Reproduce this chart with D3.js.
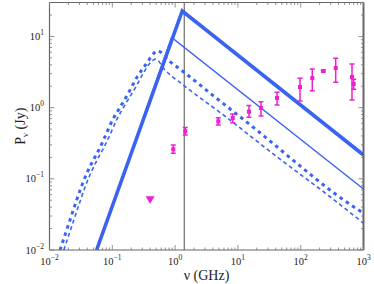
<!DOCTYPE html>
<html><head><meta charset="utf-8">
<script src="https://cdn.jsdelivr.net/npm/d3@7"></script>
<style>body{margin:0;background:#fff}svg{display:block}</style>
</head><body>
<svg id="c" width="374" height="284"></svg>
<script>
// ---- data ----
const xTickExps = [-2, -1, 0, 1, 2, 3];
const yTickExps = [-2, -1, 0, 1];
const xDomain = [0.01, 1000];
const yDomain = [0.01, 30];

// model curves: [frequency GHz, flux Jy]
const thickSolid = [[0.0562, 0.01], [1.30, 22.8], [1000, 0.216]];
const thinSolid = [[0.0562, 0.01], [0.88, 9.7], [1000, 0.072]];
const thickDashed = [[0.0147, 0.0100], [0.0166, 0.0138], [0.0212, 0.0264], [0.0271, 0.0505],
  [0.0345, 0.0912], [0.047, 0.166], [0.0637, 0.275], [0.0766, 0.391], [0.101, 0.671],
  [0.133, 1.01], [0.185, 1.67], [0.25, 2.72], [0.353, 4.2], [0.45, 5.7], [0.52, 6.3],
  [0.83, 4.43], [1.35, 3.2], [4.59, 1.35], [19.9, 0.485], [86.3, 0.166], [374, 0.0593], [1000, 0.0328]];
const thinDashed = [[0.0169, 0.0100], [0.0191, 0.0138], [0.0244, 0.0264], [0.0312, 0.0505],
  [0.0397, 0.0912], [0.054, 0.166], [0.0733, 0.275], [0.09, 0.40], [0.117, 0.671],
  [0.155, 1.05], [0.23, 1.87], [0.312, 3.04], [0.424, 4.5], [0.49, 4.8],
  [0.69, 3.38], [1.35, 2.08], [5.86, 0.79], [41.5, 0.205], [293, 0.056], [1000, 0.0238]];

// observations
const obsNu = [0.935, 1.45, 4.87, 8.26, 15.0, 23.3, 42.0, 97.5, 153, 229, 361, 656, 698];
const obsP  = [0.260, 0.466, 0.643, 0.716, 0.878, 0.989, 1.37, 1.95, 2.61, 3.27, 3.61, 2.70, 2.15];
const obsLo = [0.229, 0.413, 0.571, 0.615, 0.733, 0.763, 1.09, 1.24, 1.73, 3.17, 2.27, 1.28, 1.81];
const obsHi = [0.299, 0.524, 0.723, 0.815, 1.07, 1.21, 1.64, 2.58, 3.49, 3.38, 4.93, 4.10, 2.50];
const limitNu = [0.40];
const limitP = [0.050];
const vLineNu = 1.4;

// ---- drawing ----
const L = 49.5, R = 363.5, T = 2.5, B = 250;
const svg = d3.select('#c');
const x = d3.scaleLog().domain(xDomain).range([L, R]);
const y = d3.scaleLog().domain(yDomain).range([B, T]);
const blue = '#3b63f2', mag = '#f01ed0', axc = '#666';
const serif = '"Liberation Serif","DejaVu Serif",serif';

svg.append('clipPath').attr('id', 'clip').append('rect')
  .attr('x', L).attr('y', T).attr('width', R - L).attr('height', B - T);
const g = svg.append('g').attr('clip-path', 'url(#clip)');

// vertical line
g.append('line').attr('x1', x(vLineNu)).attr('x2', x(vLineNu)).attr('y1', T).attr('y2', B)
  .attr('stroke', '#777').attr('stroke-width', 1.3);

const lineLin = d3.line().x(d => x(d[0])).y(d => y(d[1]));
const lineSmooth = d3.line().x(d => x(d[0])).y(d => y(d[1])).curve(d3.curveMonotoneX);

g.append('path').attr('d', lineLin(thickSolid)).attr('fill', 'none').attr('stroke', blue)
  .attr('stroke-width', 3.6).attr('stroke-linejoin', 'miter');
g.append('path').attr('d', lineLin(thinSolid)).attr('fill', 'none').attr('stroke', blue)
  .attr('stroke-width', 1.4);
g.append('path').attr('d', lineSmooth(thickDashed)).attr('fill', 'none').attr('stroke', blue)
  .attr('stroke-width', 3).attr('stroke-dasharray', '3.5,4');
g.append('path').attr('d', lineSmooth(thinDashed)).attr('fill', 'none').attr('stroke', blue)
  .attr('stroke-width', 1.6).attr('stroke-dasharray', '4,3');

// error bars
const obs = obsNu.map((n, i) => ({n, p: obsP[i], lo: obsLo[i], hi: obsHi[i]}));
const eg = g.append('g').attr('stroke', mag).attr('stroke-width', 1.5);
obs.forEach(o => {
  const cx = x(o.n);
  eg.append('line').attr('x1', cx).attr('x2', cx).attr('y1', y(o.lo)).attr('y2', y(o.hi));
  eg.append('line').attr('x1', cx - 2.5).attr('x2', cx + 2.5).attr('y1', y(o.lo)).attr('y2', y(o.lo));
  eg.append('line').attr('x1', cx - 2.5).attr('x2', cx + 2.5).attr('y1', y(o.hi)).attr('y2', y(o.hi));
});
g.selectAll('rect.pt').data(obs).enter().append('rect').attr('class', 'pt')
  .attr('x', d => x(d.n) - 2).attr('y', d => y(d.p) - 2).attr('width', 4).attr('height', 4)
  .attr('fill', mag);
g.selectAll('path.lim').data(limitNu).enter().append('path').attr('class', 'lim')
  .attr('d', (d, i) => { const cx = x(d), cy = y(limitP[i]);
    return `M${cx - 4.5},${cy - 4}L${cx + 4.5},${cy - 4}L${cx},${cy + 3.5}Z`; })
  .attr('fill', mag);

// frame
const fr = svg.append('g').attr('stroke', axc).attr('fill', 'none');
fr.append('line').attr('x1', L).attr('x2', R).attr('y1', T).attr('y2', T).attr('stroke-width', 1);
fr.append('line').attr('x1', L).attr('x2', R).attr('y1', B).attr('y2', B).attr('stroke-width', 1.2);
fr.append('line').attr('x1', L).attr('x2', L).attr('y1', T).attr('y2', B).attr('stroke-width', 1.2);
fr.append('line').attr('x1', R).attr('x2', R).attr('y1', T).attr('y2', B).attr('stroke-width', 2);

// ticks
const tk = svg.append('g').attr('stroke', '#777').attr('stroke-width', 0.8);
function minorVals(exps) {
  const v = [];
  for (let i = 0; i < exps.length; i++) for (let m = 1; m < 10; m++) v.push({v: m * Math.pow(10, exps[i]), major: m === 1});
  return v;
}
minorVals(xTickExps).filter(d => d.v <= xDomain[1]).forEach(d => {
  const px = x(d.v), len = d.major ? 5 : 2.5;
  tk.append('line').attr('x1', px).attr('x2', px).attr('y1', B).attr('y2', B - len);
  tk.append('line').attr('x1', px).attr('x2', px).attr('y1', T).attr('y2', T + len);
});
minorVals(yTickExps).filter(d => d.v <= yDomain[1]).forEach(d => {
  const py = y(d.v), len = d.major ? 5 : 2.5;
  tk.append('line').attr('x1', L).attr('x2', L + len).attr('y1', py).attr('y2', py);
  tk.append('line').attr('x1', R).attr('x2', R - len).attr('y1', py).attr('y2', py);
});

// tick labels
const lab = svg.append('g').attr('font-family', serif).attr('fill', '#222');
xTickExps.forEach(e => {
  const t = lab.append('text').attr('x', x(Math.pow(10, e))).attr('y', 265)
    .attr('text-anchor', 'middle').attr('font-size', 10.5);
  t.append('tspan').text('10');
  t.append('tspan').attr('dy', -5).attr('font-size', 7.5).text(e < 0 ? '\u2212' + (-e) : String(e));
});
yTickExps.forEach(e => {
  const t = lab.append('text').attr('x', 44).attr('y', y(Math.pow(10, e)) + 3.5)
    .attr('text-anchor', 'end').attr('font-size', 10.5);
  t.append('tspan').text('10');
  t.append('tspan').attr('dy', -5).attr('font-size', 7.5).text(e < 0 ? '\u2212' + (-e) : String(e));
});

// axis titles
svg.append('text').attr('x', (L + R) / 2).attr('y', 280).attr('text-anchor', 'middle')
  .attr('font-family', serif).attr('font-size', 14).attr('fill', '#222').text('\u03bd (GHz)');
const yt = svg.append('text').attr('transform', `translate(25,${(T + B) / 2}) rotate(-90)`)
  .attr('text-anchor', 'middle').attr('font-family', serif).attr('font-size', 14).attr('fill', '#222');
yt.append('tspan').text('P');
yt.append('tspan').attr('dy', 3).attr('font-size', 9).text('\u03bd');
yt.append('tspan').attr('dy', -3).text(' (Jy)');
</script>
</body></html>
